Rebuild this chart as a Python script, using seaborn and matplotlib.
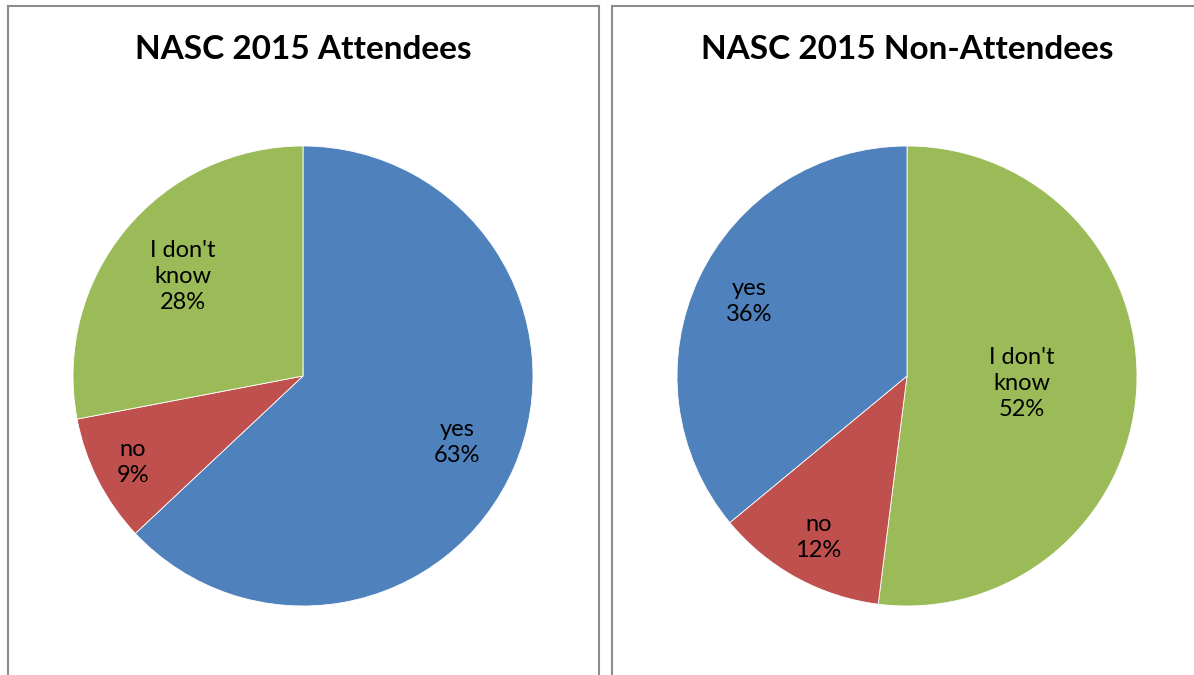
import numpy as np
import matplotlib
matplotlib.use('Agg')
import matplotlib.pyplot as plt
import seaborn as sns

# Data
titles = ['NASC 2015 Attendees', 'NASC 2015 Non-Attendees']
left_labels = ['yes', 'no', "I don't\nknow"]
left_values = [63, 9, 28]
right_labels = ["I don't\nknow", 'no', 'yes']
right_values = [52, 12, 36]

# Excel 2007 palette
colors = {'yes': '#4F81BD', 'no': '#C0504D', "I don't\nknow": '#9BBB59'}

sns.set_theme(style='white')
plt.rcParams['font.family'] = ['Lato', 'DejaVu Sans']

W, H = 1194, 675
R = 230  # pie radius in pixels
fig = plt.figure(figsize=(W / 100, H / 100), dpi=100)


def px_axes(x0, x1, top=6):
    # axes whose data units are pie radii, pie centred at (0, 0)
    return fig.add_axes([x0 / W, 0, (x1 - x0) / W, (H - top) / H])


def draw_pie(ax, title, labels, values, dists):
    wedges, _ = ax.pie(values, colors=[colors[l] for l in labels], startangle=90,
                       counterclock=False, frame=True,
                       wedgeprops=dict(edgecolor='white', linewidth=0.6))
    ax.set_aspect('auto')
    total = sum(values)
    for w, lab, v, d in zip(wedges, labels, values, dists):
        ang = np.deg2rad((w.theta1 + w.theta2) / 2)
        ax.text(d * np.cos(ang), d * np.sin(ang), f'{lab}\n{round(100 * v / total)}%',
                ha='center', va='center', fontsize=17, color='black', linespacing=1.3)
    ax.text(0, (376 - 50) / R, title, ha='center', va='center', fontsize=24,
            fontweight='bold', color='black')
    ax.set_xticks([])
    ax.set_yticks([])
    for s in ax.spines.values():
        s.set_color('#8c8c8c')
        s.set_linewidth(1.5)
    ax.spines['bottom'].set_visible(False)


ax1 = px_axes(8, 599)
draw_pie(ax1, titles[0], left_labels, left_values, [0.73, 0.83, 0.68])
ax1.set_xlim((8 - 303) / R, (599 - 303) / R)
ax1.set_ylim(-(H - 376) / R, (376 - 6) / R)

ax2 = px_axes(612, 1203)
draw_pie(ax2, titles[1], right_labels, right_values, [0.5, 0.8, 0.76])
ax2.set_xlim((612 - 907) / R, (1203 - 907) / R)
ax2.set_ylim(-(H - 376) / R, (376 - 6) / R)

fig.savefig('out.png', dpi=100)
